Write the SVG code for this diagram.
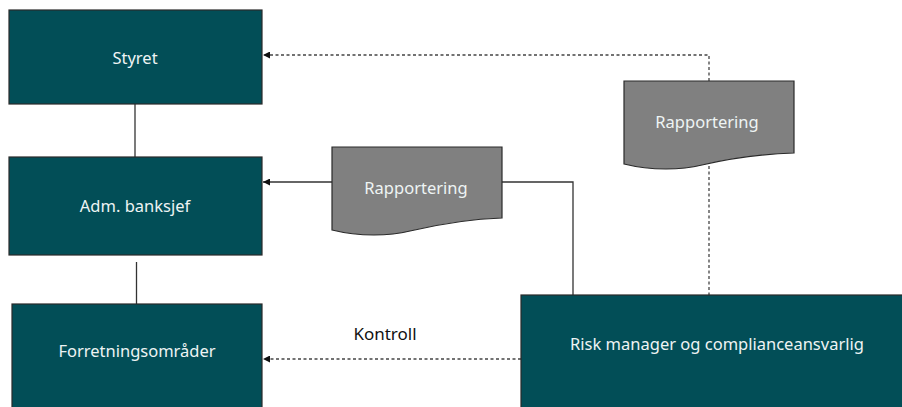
<svg xmlns="http://www.w3.org/2000/svg" width="902" height="407" viewBox="0 0 902 407">
<style>
.box{fill:#024e57;stroke:#2a2a2a;stroke-width:1.2}
.doc{fill:#808080;stroke:#2a2a2a;stroke-width:1.2}
.lbl{font-family:"Noto Sans","Open Sans",sans-serif;font-size:16.5px;fill:#eef4f4;text-anchor:middle;dominant-baseline:central}
.blk{font-family:"Noto Sans","Open Sans",sans-serif;font-size:17px;fill:#111;text-anchor:middle;dominant-baseline:central}
.ln{fill:none;stroke:#333;stroke-width:1.3}
.dash{fill:none;stroke:#444;stroke-width:1.3;stroke-dasharray:3 2.5}
</style>
<defs>
<marker id="ah" viewBox="0 0 10 10" refX="10" refY="5" markerWidth="7" markerHeight="7" orient="auto" markerUnits="userSpaceOnUse">
<path d="M0,0 L10,5 L0,10 z" fill="#111"/>
</marker>
</defs>
<g id="connectors">
<line class="ln" x1="135" y1="104" x2="135" y2="157"/>
<line class="ln" x1="136.5" y1="262" x2="136.5" y2="304"/>
<polyline class="ln" points="573,295 573,182 502,182"/>
<line class="ln" x1="332" y1="182" x2="263" y2="182" marker-end="url(#ah)"/>
<polyline class="dash" points="709,81 709,55 263,55" marker-end="url(#ah)"/>
<line class="dash" x1="709" y1="166" x2="709" y2="295"/>
<line class="dash" x1="521" y1="359" x2="263" y2="359" marker-end="url(#ah)"/>
<text class="blk" x="385" y="333">Kontroll</text>
</g>
<g id="styret">
<rect class="box" x="9" y="10" width="253" height="94"/>
<text class="lbl" x="135" y="57">Styret</text>
</g>
<g id="adm">
<rect class="box" x="9" y="157" width="253" height="98"/>
<text class="lbl" x="135" y="205">Adm. banksjef</text>
</g>
<g id="forretning">
<rect class="box" x="12" y="304" width="250" height="110"/>
<text class="lbl" x="137" y="350">Forretningsområder</text>
</g>
<g id="risk">
<rect class="box" x="521" y="295" width="390" height="120"/>
<text class="lbl" x="717" y="343">Risk manager og complianceansvarlig</text>
</g>
<g id="rapport1">
<path class="doc" d="M332,147 H502 V218 C470,219 440,224 410,231 C390,236 360,237 332,230 Z"/>
<text class="lbl" x="416" y="187">Rapportering</text>
</g>
<g id="rapport2">
<path class="doc" d="M624,81 H794 V153 C762,154 732,158 702,165 C682,170 652,171 624,164 Z"/>
<text class="lbl" x="707" y="121">Rapportering</text>
</g>
</svg>
